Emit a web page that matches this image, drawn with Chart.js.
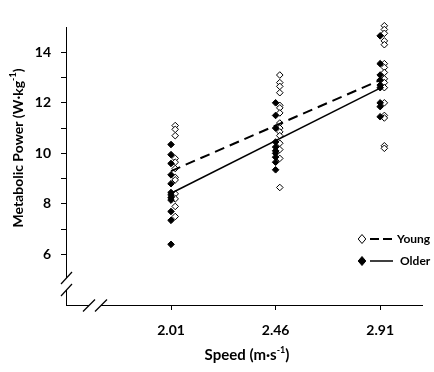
<!DOCTYPE html>
<html>
<head>
<meta charset="utf-8">
<script src="https://cdn.jsdelivr.net/npm/chart.js@4"></script>
<style>
  html, body { margin: 0; padding: 0; background: #fff; }
</style>
</head>
<body>
<canvas id="chart" width="434" height="372"></canvas>
<script>
const speeds = [2.01, 2.46, 2.91];
const yTicks = [6, 7, 8, 9, 10, 11, 12, 13, 14];

// metabolic power per subject, one list per speed
const youngValues = [
  [11.1, 10.95, 10.7, 9.8, 9.65, 9.4, 9.05, 8.95, 8.4, 8.2, 7.9, 7.5],
  [13.1, 12.8, 12.65, 12.4, 11.9, 11.8, 11.6, 11.2, 11.0, 10.85, 10.7, 10.4, 10.15, 9.8, 8.65],
  [15.05, 14.9, 14.75, 14.45, 14.3, 13.55, 13.4, 13.2, 12.95, 12.8, 12.6, 12.0, 11.5, 11.4, 10.3, 10.2]
];
const olderValues = [
  [10.35, 9.95, 9.6, 9.15, 8.8, 8.45, 8.35, 8.25, 8.15, 7.7, 7.35, 6.4],
  [12.0, 11.5, 11.0, 10.45, 10.25, 10.1, 10.0, 9.85, 9.65, 9.35],
  [14.65, 13.55, 13.1, 12.9, 12.7, 12.6, 12.0, 11.85, 11.45]
];

// regression lines at first and last speed
const youngFit = [9.3, 12.9];
const olderFit = [8.42, 12.58];

const FONT = 'Lato, "Open Sans", sans-serif';
const youngShift = 0.018; // open symbols sit a little right of the tick

function toPoints(groups, shift) {
  const pts = [];
  groups.forEach((vals, i) => {
    vals.forEach(v => pts.push({ x: speeds[i] + shift, y: v }));
  });
  return pts;
}

function fitLine(ends) {
  return [
    { x: speeds[0], y: ends[0] },
    { x: speeds[speeds.length - 1], y: ends[1] }
  ];
}

// text with a "-1" superscript, centred on (cx, cy)
function drawSupText(ctx, before, sup, after, cx, cy, size, angle) {
  const mainFont = `bold ${size}px ${FONT}`;
  const supFont = `bold ${Math.round(size * 0.62)}px ${FONT}`;
  ctx.save();
  ctx.font = mainFont;
  const w1 = ctx.measureText(before).width;
  const w3 = ctx.measureText(after).width;
  ctx.font = supFont;
  const w2 = ctx.measureText(sup).width;
  const total = w1 + w2 + w3;
  ctx.translate(cx, cy);
  ctx.rotate(angle);
  ctx.fillStyle = '#000';
  ctx.textBaseline = 'middle';
  ctx.textAlign = 'left';
  let x = -total / 2;
  ctx.font = mainFont;
  ctx.fillText(before, x, 0);
  x += w1;
  ctx.font = supFont;
  ctx.fillText(sup, x, -size * 0.32);
  x += w2;
  ctx.font = mainFont;
  ctx.fillText(after, x, 0);
  ctx.restore();
}

function diamond(ctx, x, y, r, filled) {
  ctx.beginPath();
  ctx.moveTo(x, y - r);
  ctx.lineTo(x + r * 0.85, y);
  ctx.lineTo(x, y + r);
  ctx.lineTo(x - r * 0.85, y);
  ctx.closePath();
  ctx.fillStyle = filled ? '#000' : '#fff';
  ctx.fill();
  ctx.lineWidth = 1;
  ctx.strokeStyle = '#000';
  ctx.stroke();
}

const extras = {
  id: 'extras',
  afterDraw(chart) {
    const ctx = chart.ctx;
    const xs = chart.scales.x, ys = chart.scales.y;
    const ax = Math.round(xs.left) + 0.5;
    const ay = Math.round(ys.bottom) + 0.5;

    ctx.save();
    // axis breaks
    ctx.fillStyle = '#fff';
    ctx.fillRect(ax - 2, 278, 4, 12);
    ctx.fillRect(89, ay - 2, 12, 4);
    ctx.strokeStyle = '#000';
    ctx.lineWidth = 1.2;
    [[ax, 278], [ax, 290]].forEach(([x, y]) => {
      ctx.beginPath();
      ctx.moveTo(x - 5.5, y + 6);
      ctx.lineTo(x + 5.5, y - 6);
      ctx.stroke();
    });
    [[89, ay], [101, ay]].forEach(([x, y]) => {
      ctx.beginPath();
      ctx.moveTo(x - 6, y + 6);
      ctx.lineTo(x + 6, y - 6);
      ctx.stroke();
    });

    // legend
    diamond(ctx, 362, 239, 4.5, false);
    diamond(ctx, 362, 261, 4.5, true);
    ctx.strokeStyle = '#000';
    ctx.lineWidth = 2;
    ctx.setLineDash([9, 4]);
    ctx.beginPath();
    ctx.moveTo(370, 239);
    ctx.lineTo(393, 239);
    ctx.stroke();
    ctx.setLineDash([]);
    ctx.lineWidth = 1.5;
    ctx.beginPath();
    ctx.moveTo(370, 261);
    ctx.lineTo(393, 261);
    ctx.stroke();
    ctx.fillStyle = '#000';
    ctx.font = `bold 12px ${FONT}`;
    ctx.textBaseline = 'middle';
    ctx.textAlign = 'left';
    ctx.fillText('Young', 397, 239);
    ctx.fillText('Older', 400, 261);
    ctx.restore();

    // axis titles
    drawSupText(ctx, 'Metabolic Power (W\u00b7kg', '-1', ')', 18, 148, 14, -Math.PI / 2);
    drawSupText(ctx, 'Speed (m\u00b7s', '-1', ')', 247, 355, 15, 0);
  }
};

const ctx = document.getElementById('chart').getContext('2d');
new Chart(ctx, {
  type: 'scatter',
  data: {
    datasets: [
      {
        label: 'Young fit',
        data: fitLine(youngFit),
        showLine: true,
        borderColor: '#000',
        borderWidth: 2,
        borderDash: [10, 6],
        pointRadius: 0,
        order: 0
      },
      {
        label: 'Older fit',
        data: fitLine(olderFit),
        showLine: true,
        borderColor: '#000',
        borderWidth: 1.5,
        pointRadius: 0,
        order: 0
      },
      {
        label: 'Young',
        data: toPoints(youngValues, youngShift),
        pointStyle: 'rectRot',
        pointRadius: 3.3,
        backgroundColor: '#fff',
        borderColor: '#000',
        borderWidth: 1,
        order: 2
      },
      {
        label: 'Older',
        data: toPoints(olderValues, 0),
        pointStyle: 'rectRot',
        pointRadius: 3.3,
        backgroundColor: '#000',
        borderColor: '#000',
        borderWidth: 1,
        order: 1
      }
    ]
  },
  options: {
    responsive: false,
    animation: false,
    clip: false,
    layout: { padding: { top: 27, right: 12, left: 0, bottom: 0 } },
    plugins: {
      legend: { display: false },
      tooltip: { enabled: false }
    },
    scales: {
      x: {
        type: 'linear',
        min: 1.558,
        max: 3.09,
        afterBuildTicks: scale => { scale.ticks = speeds.map(v => ({ value: v })); },
        afterFit: scale => { scale.height = 67; },
        ticks: {
          color: '#000',
          padding: 12,
          font: { family: FONT, size: 14, weight: 'bold' },
          callback: v => v.toFixed(2)
        },
        grid: {
          drawOnChartArea: false,
          drawTicks: true,
          tickLength: 5,
          color: '#000'
        },
        border: { display: true, color: '#000', width: 1 }
      },
      y: {
        min: 4,
        max: 15,
        afterBuildTicks: scale => { scale.ticks = yTicks.map(v => ({ value: v })); },
        afterFit: scale => { scale.width = 66; },
        ticks: {
          color: '#000',
          padding: 10,
          font: { family: FONT, size: 14, weight: 'bold' },
          callback: v => (v % 2 === 0 ? String(v) : '')
        },
        grid: {
          drawOnChartArea: false,
          drawTicks: true,
          tickLength: 5,
          color: '#000'
        },
        border: { display: true, color: '#000', width: 1 }
      }
    }
  },
  plugins: [extras]
});
</script>
</body>
</html>
